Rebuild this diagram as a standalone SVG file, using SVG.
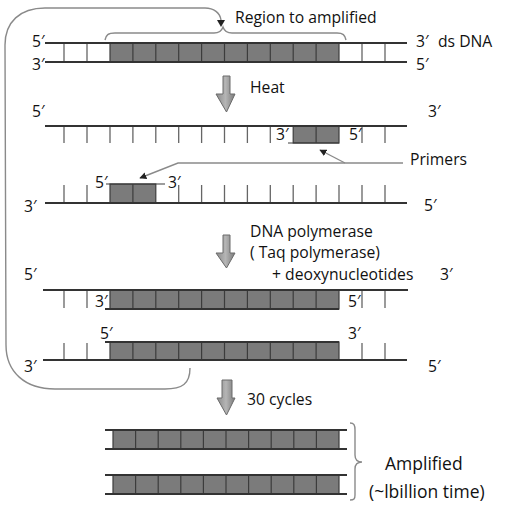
<svg xmlns="http://www.w3.org/2000/svg" width="506" height="512" viewBox="0 0 506 512">
<defs>
<style>
text{font-family:"Open Sans","Noto Sans",sans-serif;font-size:15.7px;fill:#111}
.big{font-size:17.5px}
.s{stroke:#333;stroke-width:1.8;fill:none}
.t{stroke:#666;stroke-width:1.3;fill:none}
.g{fill:#7b7b7b;stroke:#3c3c3c;stroke-width:1.2}
.d{stroke:#3c3c3c;stroke-width:1.2;fill:none}
.c{stroke:#8a8a8a;stroke-width:1.4;fill:none}
.b{fill:url(#ag);stroke:#6a6a6a;stroke-width:1}
</style>
<linearGradient id="ag" x1="0" y1="0" x2="1" y2="0">
<stop offset="0" stop-color="#8a8a8a"/><stop offset="0.5" stop-color="#b5b5b5"/><stop offset="1" stop-color="#7a7a7a"/>
</linearGradient>
<marker id="ah" viewBox="0 0 10 10" refX="9" refY="5" markerWidth="7" markerHeight="7" orient="auto" markerUnits="userSpaceOnUse">
<path d="M0,0 L10,5 L0,10 z" fill="#222"/>
</marker>
</defs>
<rect width="506" height="512" fill="#fff"/>

<g id="connectors">
<path class="c" d="M190,368 C190,384 182,389 165,389 L55,389 C25,389 6,372 6,345 L5,45 C5,22 20,8 45,8 L205,8 C214,8 220,13 221,20"/>
<polygon points="217,20 225,20 221,27" fill="#222"/>
<path class="c" d="M403,163 L178,163 L140,178" marker-end="url(#ah)"/>
<path class="c" d="M345,163 L320,150" marker-end="url(#ah)"/>
<path class="b" d="M223,76 H230 V94 H235 L226.5,112 L216,94 H223 Z"/>
<path class="b" d="M223,235 H230 V253 H235 L226.5,268 L216,253 H223 Z"/>
<path class="b" d="M222,380 H232 V398 H235 L226.5,415 L217,398 H222 Z"/>
</g>

<g id="region-brace">
<path class="c" d="M105,40 C106,35 108,33 115,33 L214,33 C220,33 222,30 223,27 C224,30 226,33 232,33 L337,33 C343,33 345,35 346,40"/>
<text x="235" y="23">Region to amplified</text>
</g>

<g id="ds-dna">
<rect class="g" x="110" y="43" width="229" height="19"/>
<path class="d" d="M132.9,43V62M155.8,43V62M178.7,43V62M201.6,43V62M224.5,43V62M247.4,43V62M270.3,43V62M293.2,43V62M316.1,43V62"/>
<path class="t" d="M64,43V62M87,43V62M362,43V62M385,43V62"/>
<path class="s" d="M45,43H407M45,62H407"/>
<text x="32" y="47">5′</text>
<text x="32" y="70">3′</text>
<text x="416" y="47">3′<tspan x="438">ds DNA</tspan></text>
<text x="416" y="70">5′</text>
</g>

<g id="heat"><text x="250" y="93">Heat</text></g>

<g id="strand-1">
<rect class="g" x="293.2" y="126" width="45.8" height="17"/>
<path class="d" d="M316.1,126V143M288,143H339"/>
<path class="t" d="M64,126V143M87,126V143M110,126V143M132.9,126V143M155.8,126V143M178.7,126V143M201.6,126V143M224.5,126V143M247.4,126V143M270.3,126V143M362,126V143M385,126V143"/>
<path class="s" d="M45,126H407"/>
<text x="32" y="117">5′</text>
<text x="428" y="117">3′</text>
<text x="276" y="140">3′</text>
<text x="349" y="140">5′</text>
</g>

<g id="primers-label"><text x="410" y="165">Primers</text></g>

<g id="strand-2">
<rect class="g" x="110" y="184" width="45.8" height="19"/>
<path class="d" d="M132.9,184V203M106,184H165"/>
<path class="t" d="M64,185V203M87,185V203M178.7,185V203M201.6,185V203M224.5,185V203M247.4,185V203M270.3,185V203M293.2,185V203M316.1,185V203M339,185V203M362,185V203M385,185V203"/>
<path class="s" d="M45,203H407"/>
<text x="95" y="188">5′</text>
<text x="168" y="188">3′</text>
<text x="24" y="212">3′</text>
<text x="424" y="211">5′</text>
</g>

<g id="polymerase">
<text x="250" y="237">DNA polymerase</text>
<text x="250" y="258">( Taq polymerase)</text>
<text x="272" y="280">+ deoxynucleotides</text>
<text x="440" y="280">3′</text>
</g>

<g id="product-1">
<rect class="g" x="110" y="290" width="229" height="19"/>
<path class="d" d="M132.9,290V309M155.8,290V309M178.7,290V309M201.6,290V309M224.5,290V309M247.4,290V309M270.3,290V309M293.2,290V309M316.1,290V309"/>
<path class="t" d="M64,290V308M87,290V308M362,290V308M385,290V308"/>
<path class="s" d="M43,290H408M105,309H339"/>
<text x="24" y="280">5′</text>
<text x="95" y="307">3′</text>
<text x="348" y="307">5′</text>
</g>

<g id="product-2">
<rect class="g" x="110" y="342" width="229" height="18"/>
<path class="d" d="M132.9,342V360M155.8,342V360M178.7,342V360M201.6,342V360M224.5,342V360M247.4,342V360M270.3,342V360M293.2,342V360M316.1,342V360"/>
<path class="t" d="M64,343V360M87,343V360M362,343V360M385,343V360"/>
<path class="s" d="M105,342H339M43,360H407"/>
<text x="100" y="339">5′</text>
<text x="348" y="339">3′</text>
<text x="24" y="372">3′</text>
<text x="428" y="372">5′</text>
</g>

<g id="cycles"><text x="247" y="405">30 cycles</text></g>

<g id="amplified-1">
<rect class="g" x="113" y="430" width="226" height="19"/>
<path class="d" d="M135.6,430V449M158.2,430V449M180.8,430V449M203.4,430V449M226,430V449M248.6,430V449M271.2,430V449M293.8,430V449M316.4,430V449"/>
<path class="s" d="M105,430H347M105,449H347"/>
</g>

<g id="amplified-2">
<rect class="g" x="113" y="475" width="226" height="19"/>
<path class="d" d="M135.6,475V494M158.2,475V494M180.8,475V494M203.4,475V494M226,475V494M248.6,475V494M271.2,475V494M293.8,475V494M316.4,475V494"/>
<path class="s" d="M105,475H347M105,494H347"/>
</g>

<g id="amplified-brace">
<path class="c" d="M350,423 C354,423 355,425 355,430 L355,455 C355,460 358,462 362,462 C358,462 355,464 355,469 L355,495 C355,499 354,500 350,500"/>
<text class="big" x="385" y="470">Amplified</text>
<text class="big" x="369" y="498">(~lbillion time)</text>
</g>
</svg>
